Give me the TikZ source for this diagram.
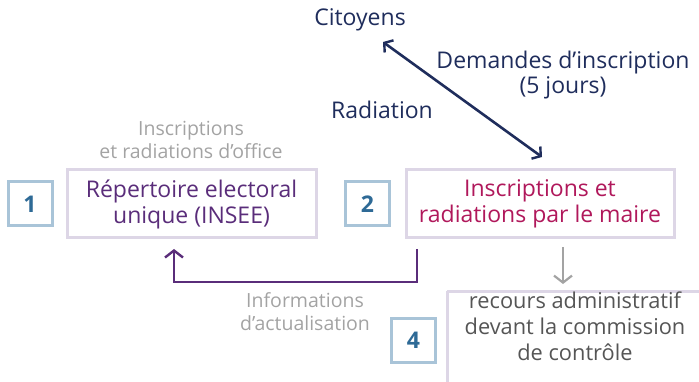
\documentclass[tikz,border=0pt]{standalone}
\usepackage{fontspec}
\setmainfont{Open Sans}
\usetikzlibrary{arrows.meta}
\definecolor{navy}{HTML}{1F2D5C}
\definecolor{purp}{HTML}{5A2D7A}
\definecolor{magen}{HTML}{B0185B}
\definecolor{lgray}{HTML}{A3A3A3}
\definecolor{dgray}{HTML}{555555}
\definecolor{numblue}{HTML}{2E6A96}
\definecolor{numborder}{HTML}{A9C4D8}
\definecolor{boxborder}{HTML}{DDD6E6}
\tikzset{
  numbox/.style={draw=numborder, line width=3pt, minimum width=44pt, minimum height=44pt, inner sep=0pt, text=numblue, font=\fontsize{23}{24}\selectfont\bfseries},
  mainbox/.style={draw=boxborder, line width=3pt, inner sep=0pt, align=center, font=\fontsize{23}{26}\selectfont},
  graytxt/.style={text=lgray, align=center, font=\fontsize{19.5}{23}\selectfont},
  navytxt/.style={text=navy, align=center, font=\fontsize{23}{25}\selectfont}
}
\begin{document}
\begin{tikzpicture}[x=1pt,y=-1pt]
\useasboundingbox (0,0) rectangle (699,382);
\begin{scope}
\clip (0,0) rectangle (699,382);
% boxes
\node[numbox] (n1) at (30,204) {1};
\node[mainbox, minimum width=249pt, minimum height=68pt, text=purp] (rep) at (191.5,204) {Répertoire electoral\\unique (INSEE)};
\node[numbox] (n2) at (367.5,204) {2};
\node[mainbox, minimum width=268pt, minimum height=68pt, text=magen] (ins) at (540,204) {Inscriptions et\\radiations par le maire};
\node[numbox] (n4) at (413.5,340) {4};
\draw[draw=boxborder, line width=3pt] (447,291) -- (720,291) (447,291) -- (447,400);
\node[text=dgray, align=center, font=\fontsize{21.8}{26}\selectfont] (rec) at (575,326) {recours administratif\\devant la commission\\de contrôle};
\end{scope}
% texts
\node[navytxt] (cit) at (360,20) {Citoyens};
\node[navytxt] (dem) at (563,75) {Demandes d’inscription\\(5 jours)};
\node[navytxt] (rad) at (382,110) {Radiation};
\node[graytxt] (off) at (191,139.5) {Inscriptions\\et radiations d’office};
\node[graytxt] (act) at (305,311.5) {Informations\\d’actualisation};
% connectors
\coordinate (a1) at (383,42);
\coordinate (a2) at (542,157);
\draw[navy, line width=2.6pt, {Straight Barb[length=6pt,width=15pt,line width=2.4pt]}-{Straight Barb[length=6pt,width=15pt,line width=2.4pt]}] (a1) -- (a2);
\coordinate (p1) at (417,249);
\coordinate (p2) at (174,249);
\draw[purp, line width=2.6pt, -{Straight Barb[length=7pt,width=18pt,line width=2.4pt]}] (p1) -- (417,282) -- (174,282) -- (p2);
\coordinate (g1) at (563,247);
\coordinate (g2) at (563,284);
\draw[lgray, line width=2.4pt, -{Straight Barb[length=7pt,width=18pt,line width=2.2pt]}] (g1) -- (g2);
\end{tikzpicture}
\end{document}
